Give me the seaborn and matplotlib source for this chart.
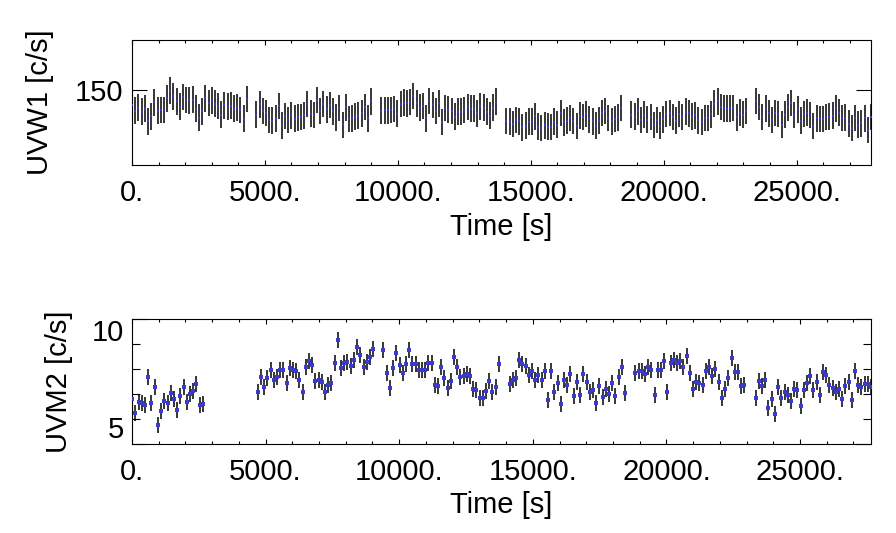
import numpy as np
import pandas as pd
import seaborn as sns
import matplotlib.pyplot as plt
from matplotlib.ticker import FixedLocator, MultipleLocator, FuncFormatter

BIN = 120  # s, light curve bin

# UVW1: start time of each snapshot [s] and binned count rates [c/s]
uvw1_starts = [0, 4680, 9385, 14085, 18786, 23476]
uvw1_seg1 = [148.50, 147.93, 148.23, 147.83, 148.13, 146.87, 147.37, 148.77, 147.93, 148.00,
             148.00, 149.17, 149.93, 149.37, 148.87, 148.33, 149.30, 149.00, 148.97, 149.03,
             148.13, 147.23, 147.87, 149.17, 148.70, 148.93, 148.63, 148.40, 147.53, 148.47,
             148.33, 148.43, 148.13, 148.23, 148.00, 147.13, 149.10]
uvw1_seg2 = [147.53, 148.57, 147.90, 147.70, 147.00, 146.93, 147.13, 148.40, 146.47, 147.40,
             147.00, 147.47, 147.13, 147.27, 147.30, 147.47, 148.60, 147.63, 147.50, 149.00,
             147.90, 148.60, 148.07, 148.50, 147.87, 147.27, 148.20, 146.50, 148.27, 147.10,
             147.17, 147.33, 147.43, 147.67, 148.30, 147.17, 148.87]
uvw1_seg3 = [147.93, 147.97, 147.97, 148.00, 148.10, 147.63, 148.60, 148.73, 148.67, 148.80,
             149.40, 148.67, 148.23, 148.40, 147.17, 148.90, 148.50, 147.90, 148.67, 146.80,
             148.20, 148.03, 147.90, 147.33, 147.83, 147.83, 148.00, 148.30, 148.13, 148.13,
             147.67, 148.37, 148.23, 147.83, 147.43, 148.23, 148.83]
uvw1_seg4 = [146.90, 146.83, 146.60, 147.00, 146.87, 146.27, 146.43, 146.83, 146.83, 147.37,
             146.33, 146.20, 146.47, 146.33, 146.30, 146.83, 146.53, 147.70, 146.77, 146.93,
             147.20, 146.90, 146.40, 147.43, 147.30, 147.60, 147.07, 146.87, 146.43, 146.93,
             147.70, 147.90, 147.20, 146.87, 147.10, 147.27, 148.20]
uvw1_seg5 = [147.53, 147.33, 147.87, 147.00, 147.53, 147.03, 147.30, 146.50, 147.00, 146.43,
             147.07, 147.60, 147.70, 147.30, 146.93, 147.60, 147.30, 147.83, 147.67, 147.33,
             147.47, 146.97, 146.80, 147.20, 147.20, 147.57, 148.63, 148.87, 148.30, 148.17,
             148.13, 148.17, 148.20, 147.27, 147.73, 147.53, 147.90]
uvw1_seg6 = [148.90, 148.30, 147.30, 148.13, 147.67, 147.00, 147.70, 147.60, 146.53, 147.53,
             148.27, 148.70, 147.50, 148.07, 146.93, 147.60, 147.73, 147.50, 146.40, 147.17,
             147.10, 147.10, 147.30, 147.33, 147.43, 148.17, 147.73, 147.20, 147.23, 146.63,
             146.20, 147.20, 146.53, 146.67, 147.17, 146.00, 147.30]
uvw1_err = 1.33

# UVM2
uvm2_starts = [10, 4705, 9412, 14130, 18837, 23340]
uvm2_seg1 = [6.81, 6.25, 6.67, 6.63, 6.55, 7.69, 6.65, 7.28, 5.76, 6.31,
             6.71, 6.65, 7.05, 6.80, 6.37, 6.93, 7.28, 6.67, 7.01, 7.12,
             7.40, 6.57, 6.60]
uvm2_seg2 = [7.09, 7.69, 7.27, 7.65, 7.96, 7.55, 7.67, 7.96, 7.95, 7.45,
             8.03, 7.96, 7.91, 7.56, 7.09, 8.08, 8.32, 8.16, 7.51, 7.56,
             7.47, 7.08, 7.37, 7.45, 8.23, 9.17, 8.03, 8.24, 8.27, 8.11,
             8.35, 8.89, 8.55, 8.07, 8.27, 8.47, 8.79]
uvm2_seg3 = [8.75, 7.83, 7.23, 8.04, 8.64, 8.16, 7.84, 8.21, 8.75, 8.21,
             8.21, 7.95, 7.97, 7.97, 8.23, 8.23, 7.36, 7.32, 8.07, 7.63,
             7.24, 7.51, 8.47, 8.07, 7.67, 7.71, 7.80, 7.72, 7.19, 7.15,
             6.83, 6.83, 7.12, 7.51, 7.07, 7.28, 8.19]
uvm2_seg4 = [7.41, 7.55, 7.64, 8.37, 8.20, 8.13, 7.75, 7.91, 7.57, 7.75,
             7.56, 7.91, 6.75, 7.93, 7.09, 7.43, 6.59, 7.55, 7.35, 7.81,
             6.93, 7.49, 6.96, 7.80, 7.47, 7.07, 7.15, 6.64, 7.31, 6.88,
             7.19, 7.00, 7.44, 6.93, 7.68, 8.07, 7.03]
uvm2_seg5 = [7.83, 7.93, 7.91, 7.80, 8.07, 7.97, 6.97, 7.95, 7.95, 8.31,
             7.07, 8.24, 8.35, 8.23, 8.31, 8.08, 8.52, 7.85, 7.21, 7.47,
             7.45, 7.37, 7.91, 8.09, 7.72, 7.99, 7.47, 6.84, 7.19, 7.64,
             8.45, 7.87, 7.87, 7.31, 7.35]
uvm2_seg6 = [6.85, 7.53, 7.32, 7.57, 6.43, 6.80, 6.21, 7.29, 6.85, 7.07,
             6.97, 6.73, 7.21, 7.17, 6.51, 7.17, 7.44, 7.71, 7.17, 7.48,
             6.97, 7.87, 7.76, 7.37, 7.24, 7.07, 7.21, 6.79, 7.32, 7.48,
             6.76, 7.93, 7.35, 7.29, 7.39, 7.40, 7.28]
uvm2_err = 0.32


def build_frame(starts, segments):
    rows = []
    for t0, seg in zip(starts, segments):
        for i, r in enumerate(seg):
            rows.append((t0 + i * BIN, r))
    return pd.DataFrame(rows, columns=['time', 'rate'])


uvw1 = build_frame(uvw1_starts, [uvw1_seg1, uvw1_seg2, uvw1_seg3, uvw1_seg4, uvw1_seg5, uvw1_seg6])
uvm2 = build_frame(uvm2_starts, [uvm2_seg1, uvm2_seg2, uvm2_seg3, uvm2_seg4, uvm2_seg5, uvm2_seg6])

sns.set_style('ticks')
plt.rcParams['font.family'] = ['Liberation Sans', 'DejaVu Sans']
for key in ['text.color', 'axes.labelcolor', 'xtick.color', 'ytick.color', 'axes.edgecolor']:
    plt.rcParams[key] = 'black'

fig = plt.figure(figsize=(8.96, 5.33), dpi=100)
ax1 = fig.add_axes([0.1473, 0.6904, 0.8248, 0.2345])
ax2 = fig.add_axes([0.1473, 0.1670, 0.8248, 0.2345])

panels = [
    (ax1, uvw1, uvw1_err, 'UVW1 [c/s]', (0, 27800), (142.5, 155), 4.2),
    (ax2, uvm2, uvm2_err, 'UVM2 [c/s]', (0, 27657), (5, 10), 5),
]

FS = 21

for ax, df, err, ylab, xlim, ylim, msize in panels:
    ax.errorbar(df['time'], df['rate'], yerr=err, fmt='none', ecolor='black',
                elinewidth=1.1, capsize=0, zorder=2)
    sns.scatterplot(data=df, x='time', y='rate', ax=ax, marker='s', s=msize,
                    color='#3a3ad0', linewidth=0, zorder=3)
    ax.set_xlim(xlim)
    ax.set_ylim(ylim)
    ax.set_xlabel('Time [s]', fontsize=FS)
    ax.set_ylabel(ylab, fontsize=FS)
    ax.xaxis.set_major_locator(MultipleLocator(5000))
    ax.xaxis.set_minor_locator(MultipleLocator(1000))
    ax.xaxis.set_major_formatter(FuncFormatter(lambda v, p: f'{v:.0f}.'))
    ax.tick_params(which='both', direction='in', top=True, right=True, width=0.8)
    ax.tick_params(axis='x', which='major', length=3.5, labelsize=FS, pad=10)
    ax.tick_params(axis='x', which='minor', length=2)
    ax.tick_params(axis='y', which='major', length=11, labelsize=FS, pad=6)
    ax.tick_params(axis='y', which='minor', length=5.5)
    ax.xaxis.set_label_coords(0.5, -0.38)
    for sp in ax.spines.values():
        sp.set_linewidth(0.8)

ax1.yaxis.set_major_locator(FixedLocator([150]))
ax1.yaxis.set_label_coords(-0.105, 0.5)

ax2.yaxis.set_major_locator(FixedLocator([5, 10]))
ax2.yaxis.set_minor_locator(MultipleLocator(1))
ax2.yaxis.set_label_coords(-0.08, 0.5)
ticks = ax2.yaxis.get_major_ticks()
ticks[0].label1.set_va('bottom')
ticks[1].label1.set_va('top')

fig.savefig('out.png', dpi=100)
